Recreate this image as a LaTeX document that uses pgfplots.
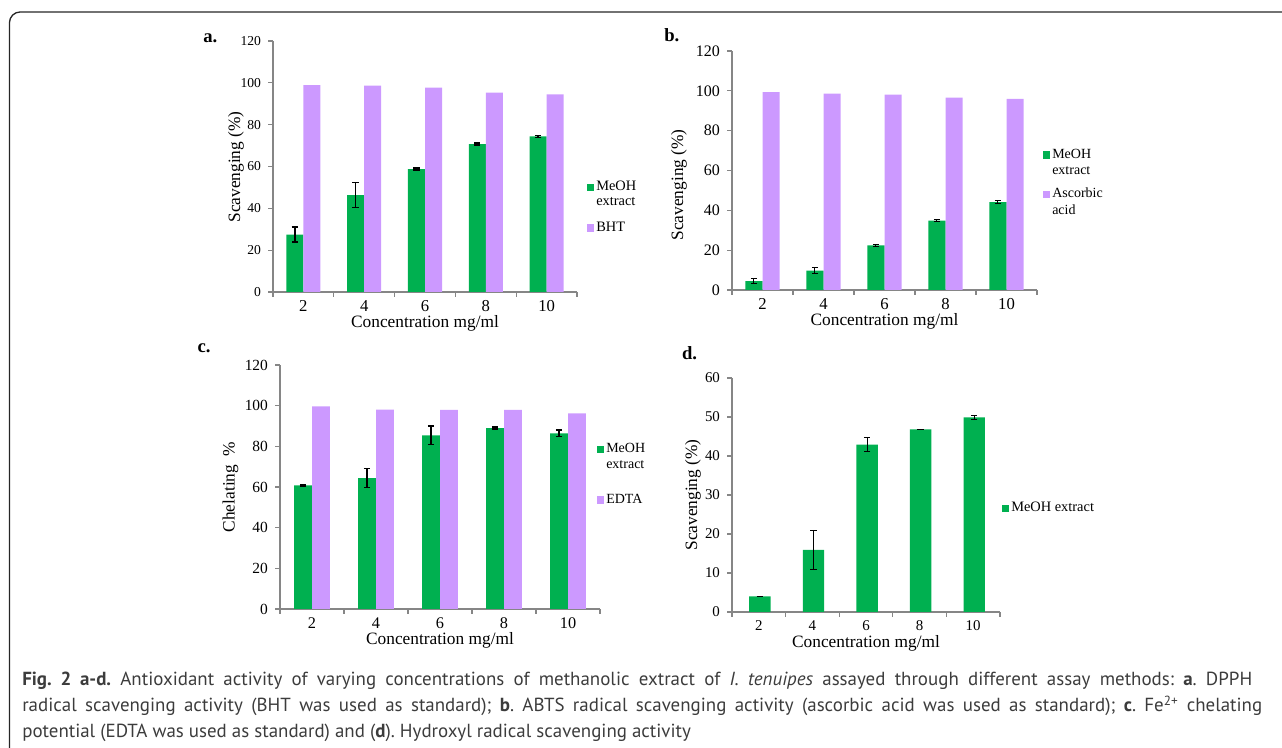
\documentclass[border=0pt]{standalone}
\usepackage{pgfplots}
\pgfplotsset{compat=1.18}
\usepackage{fontspec}
\setmainfont{Liberation Serif}
\newfontfamily\capfont{PT Sans}
\definecolor{barG}{RGB}{0,176,80}
\definecolor{barP}{RGB}{204,153,255}
\definecolor{axgray}{RGB}{134,134,134}
\definecolor{capgray}{RGB}{60,60,60}
\newcommand{\sqG}{\textcolor{barG}{\rule[-0.3pt]{5.2pt}{5.8pt}}\hspace{1.8pt}}
\newcommand{\sqP}{\textcolor{barP}{\rule[-0.3pt]{5.2pt}{5.8pt}}\hspace{1.8pt}}
\newcommand{\sqN}{\hspace{7pt}}

\pgfplotsset{
  panel/.style={
    scale only axis,
    axis x line*=bottom, axis y line*=left,
    axis line style={draw=axgray, line width=0.9pt},
    xmin=0.5, xmax=5.5,
    xtick={0.5,1.5,2.5,3.5,4.5,5.5},
    x tick label as interval,
    xticklabels={2,4,6,8,10},
    tick align=outside,
    major tick length=3.5pt,
    tick style={draw=axgray, line width=0.9pt},
    yticklabel style={xshift=-2pt},
    xticklabel style={yshift=0.5pt},
    ymin=0,
    /pgf/number format/assume math mode=true,
    xlabel={Concentration mg/ml},
    xlabel style={at={(axis description cs:0.5,0)}, anchor=base, yshift=-26.6pt, font=\fontsize{13}{15}\selectfont},
    legend cell align=left,
    clip=false,
  },
  sq/.style={legend image code/.code={}},
  leg/.style={draw=none, fill=none, inner sep=0pt, row sep=0pt, column sep=0pt,
    nodes={inner sep=0.5pt, text depth=0pt}},
}

\begin{document}
\frenchspacing
\begin{tikzpicture}
\path[use as bounding box] (0,0) rectangle (961.5pt,561pt);
\draw[black!85, line width=1pt, rounded corners=8pt] (975pt,552pt) -- (7.1pt,552pt) -- (7.1pt,-5pt);

% ---------- panel a ----------
\begin{axis}[panel,
  at={(204.75pt,342pt)}, anchor=south west,
  width=228pt, height=188.25pt,
  ymax=120, ytick={0,20,...,120},
  yticklabel style={font=\fontsize{10.2}{12}\selectfont},
  xticklabel style={font=\fontsize{12.5}{14}\selectfont},
  ylabel={Scavenging (\%)},
  ylabel style={at={(axis description cs:-0.122,0.498)}, anchor=center, font=\fontsize{13}{15}\selectfont},
  legend style={leg, at={(rel axis cs:1.0296,0.449)}, anchor=north west, font=\fontsize{10.8}{12}\selectfont},
]
\addplot[ybar, bar width=0.28, fill=barG, draw=none, sq,
  error bars/.cd, y dir=both, y explicit,
  error bar style={black, line width=1.2pt},
  error mark options={black, rotate=90, mark size=2.4pt, line width=1.2pt}]
  table[x expr=\thisrow{x}-0.14, y=y, y error=e] {
x y e
1 27.4 3.6
2 46.3 6.0
3 58.7 0.5
4 70.7 0.5
5 74.4 0.5
};
\addlegendentry{\sqG\rule{0pt}{8pt}MeOH}
\addlegendimage{empty legend}
\addlegendentry{\sqN\rule{0pt}{9.7pt}extract}
\addplot[ybar, bar width=0.28, fill=barP, draw=none, sq]
  table[x expr=\thisrow{x}+0.14, y=y] {
x y
1 98.9
2 98.6
3 97.7
4 95.3
5 94.5
};
\addlegendentry{\sqP\rule{0pt}{18.5pt}BHT}
\end{axis}

% ---------- panel b ----------
\begin{axis}[panel,
  at={(549pt,343.5pt)}, anchor=south west,
  width=228.75pt, height=179.25pt,
  ymax=120, ytick={0,20,...,120},
  yticklabel style={font=\fontsize{12}{14}\selectfont},
  xticklabel style={font=\fontsize{12.5}{14}\selectfont},
  ylabel={Scavenging (\%)},
  ylabel style={at={(axis description cs:-0.174,0.44)}, anchor=center, font=\fontsize{13}{15}\selectfont},
  legend style={leg, at={(rel axis cs:1.0164,0.600)}, anchor=north west, font=\fontsize{10.5}{12}\selectfont},
]
\addplot[ybar, bar width=0.28, fill=barG, draw=none, sq,
  error bars/.cd, y dir=both, y explicit,
  error bar style={black, line width=0.7pt},
  error mark options={black, rotate=90, mark size=2.4pt, line width=0.7pt}]
  table[x expr=\thisrow{x}-0.14, y=y, y error=e] {
x y e
1 4.5 1.3
2 9.7 1.4
3 22.4 0.5
4 34.8 0.6
5 44.1 0.6
};
\addlegendentry{\sqG\rule{0pt}{8pt}MeOH}
\addlegendimage{empty legend}
\addlegendentry{\sqN\rule{0pt}{11.5pt}extract}
\addplot[ybar, bar width=0.28, fill=barP, draw=none, sq]
  table[x expr=\thisrow{x}+0.14, y=y] {
x y
1 99.4
2 98.6
3 98.1
4 96.6
5 95.9
};
\addlegendentry{\sqP\rule{0pt}{16.25pt}Ascorbic}
\addlegendimage{empty legend}
\addlegendentry{\sqN\rule{0pt}{11.5pt}acid}
\end{axis}

% ---------- panel c ----------
\begin{axis}[panel,
  at={(210pt,104.25pt)}, anchor=south west,
  width=240pt, height=183pt,
  ymax=120, ytick={0,20,...,120},
  yticklabel style={font=\fontsize{11.6}{14}\selectfont},
  xticklabel style={font=\fontsize{12.2}{14}\selectfont},
  ylabel={Chelating\ \ \%},
  ylabel style={at={(axis description cs:-0.155,0.5)}, anchor=center, font=\fontsize{13}{15}\selectfont},
  legend style={leg, at={(rel axis cs:0.9875,0.687)}, anchor=north west, font=\fontsize{10.5}{12}\selectfont},
]
\addplot[ybar, bar width=0.28, fill=barG, draw=none, sq,
  error bars/.cd, y dir=both, y explicit,
  error bar style={black, line width=1.2pt},
  error mark options={black, rotate=90, mark size=2.4pt, line width=1.2pt}]
  table[x expr=\thisrow{x}-0.14, y=y, y error=e] {
x y e
1 60.8 0.4
2 64.4 4.7
3 85.4 4.5
4 88.9 0.5
5 86.4 1.5
};
\addlegendentry{\sqG\rule{0pt}{8pt}MeOH}
\addlegendimage{empty legend}
\addlegendentry{\sqN\rule{0pt}{10.7pt}extract}
\addplot[ybar, bar width=0.28, fill=barP, draw=none, sq]
  table[x expr=\thisrow{x}+0.14, y=y] {
x y
1 99.7
2 98.0
3 97.9
4 97.9
5 96.2
};
\addlegendentry{\sqP\rule{0pt}{25.25pt}EDTA}
\end{axis}

% ---------- panel d ----------
\begin{axis}[panel,
  at={(549pt,102pt)}, anchor=south west,
  width=201pt, height=175.5pt,
  ymax=60, ytick={0,10,...,60},
  yticklabel style={font=\fontsize{11.2}{13}\selectfont},
  xticklabel style={font=\fontsize{11.2}{13}\selectfont},
  ylabel={Scavenging (\%)},
  ylabel style={at={(axis description cs:-0.146,0.5)}, anchor=center, font=\fontsize{13}{15}\selectfont},
  legend style={leg, at={(rel axis cs:1.0037,0.477)}, anchor=north west, font=\fontsize{10.8}{12}\selectfont},
]
\addplot[ybar, bar width=0.40, fill=barG, draw=none, sq,
  error bars/.cd, y dir=both, y explicit,
  error bar style={black, line width=0.7pt},
  error mark options={black, rotate=90, mark size=2.4pt, line width=0.7pt}]
  table[x expr=\thisrow{x}+0.02, y=y, y error=e] {
x y e
1 4.0 0.1
2 15.9 4.9
3 42.9 1.8
4 46.8 0.1
5 49.9 0.6
};
\addlegendentry{\sqG\rule{0pt}{8pt}MeOH extract}
\end{axis}

% ---------- panel letters ----------
\node[anchor=base west, inner sep=0pt, font=\fontsize{14}{16}\selectfont\bfseries] at (152.25pt,528.75pt) {a.};
\node[anchor=base west, inner sep=0pt, font=\fontsize{14}{16}\selectfont\bfseries] at (498pt,529.5pt) {b.};
\node[anchor=base west, inner sep=0pt, font=\fontsize{14}{16}\selectfont\bfseries] at (148pt,296.5pt) {c.};
\node[anchor=base west, inner sep=0pt, font=\fontsize{14}{16}\selectfont\bfseries] at (511.3pt,291.5pt) {d.};

% ---------- caption ----------
\begin{scope}[every node/.style={anchor=base west, inner sep=0pt, text=capgray, font=\capfont\fontsize{14.2}{17}\selectfont}]
\node at (16.5pt,46.5pt) {\makebox[922.5pt][s]{\textbf{Fig. 2 a-d.} Antioxidant activity of varying concentrations of methanolic extract of \textit{I. tenuipes} assayed through different assay methods: \textbf{a}. DPPH}};
\node at (16.5pt,27pt) {\makebox[930pt][s]{radical scavenging activity (BHT was used as standard); \textbf{b}. ABTS radical scavenging activity (ascorbic acid was used as standard); \textbf{c}. Fe\textsuperscript{2+} chelating}};
\node at (16.5pt,7.5pt) {potential (EDTA was used as standard) and (\textbf{d}). Hydroxyl radical scavenging activity};
\end{scope}
\end{tikzpicture}
\end{document}
